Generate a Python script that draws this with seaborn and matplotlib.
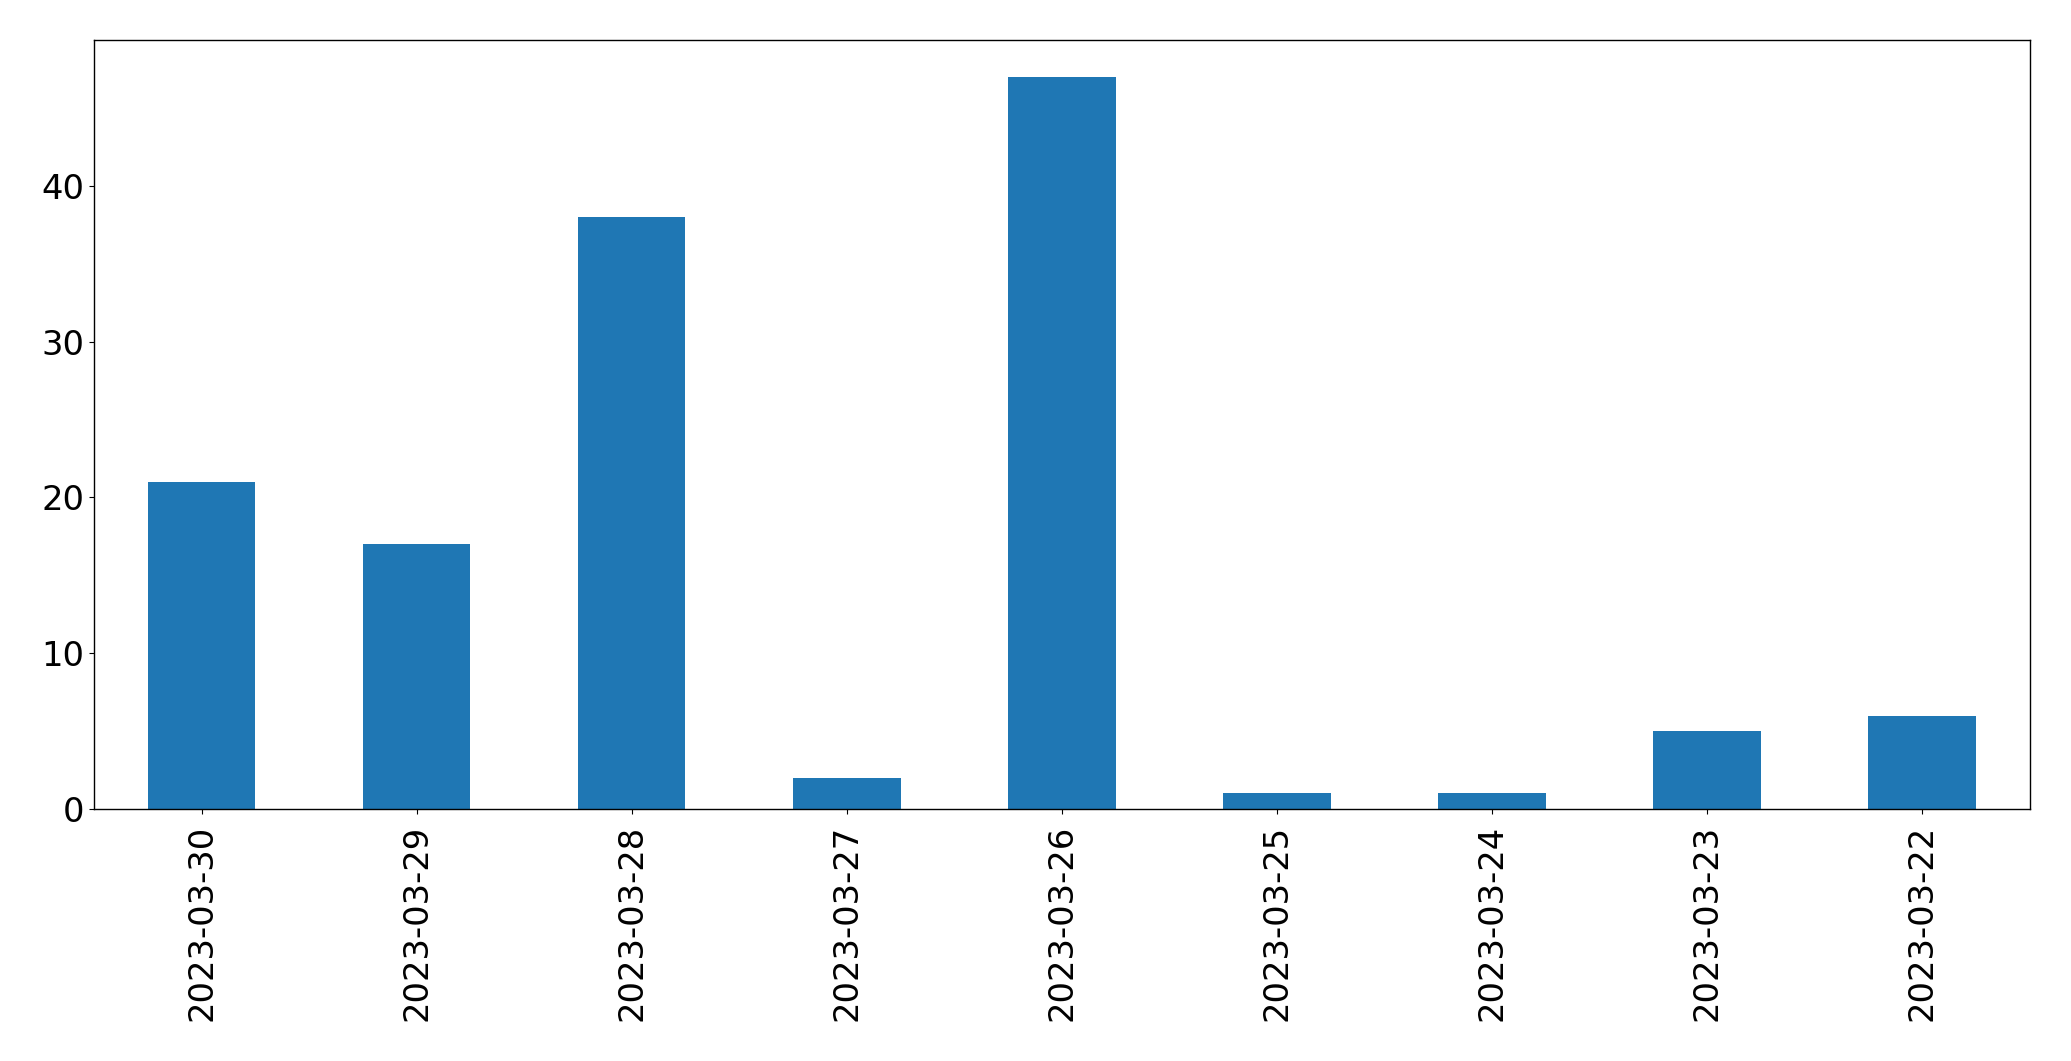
import matplotlib
matplotlib.use("Agg")
import matplotlib.pyplot as plt
import seaborn as sns
import pandas as pd

dates = ["2023-03-30", "2023-03-29", "2023-03-28", "2023-03-27", "2023-03-26",
         "2023-03-25", "2023-03-24", "2023-03-23", "2023-03-22"]
counts = [21, 17, 38, 2, 47, 1, 1, 5, 6]

df = pd.DataFrame({"date": dates, "count": counts})

fig = plt.figure(figsize=(20.71, 10.61), dpi=100)
ax = fig.add_axes([0.0454, 0.2375, 0.9346, 0.7245])
sns.barplot(data=df, x="date", y="count", order=dates, color="#1f77b4",
            saturation=1, width=0.5, ax=ax)
ax.set_xlim(-0.5, len(dates) - 0.5)
ax.set_ylim(0, max(counts) * 1.05)
ax.set_xlabel("")
ax.set_ylabel("")
ax.tick_params(axis="both", labelsize=24.3, length=3.5, color="black", labelcolor="black")
ax.tick_params(axis="x", rotation=90, pad=7.7)
for s in ax.spines.values():
    s.set_linewidth(1.0)
    s.set_edgecolor("black")
fig.savefig("out.png", dpi=100)
